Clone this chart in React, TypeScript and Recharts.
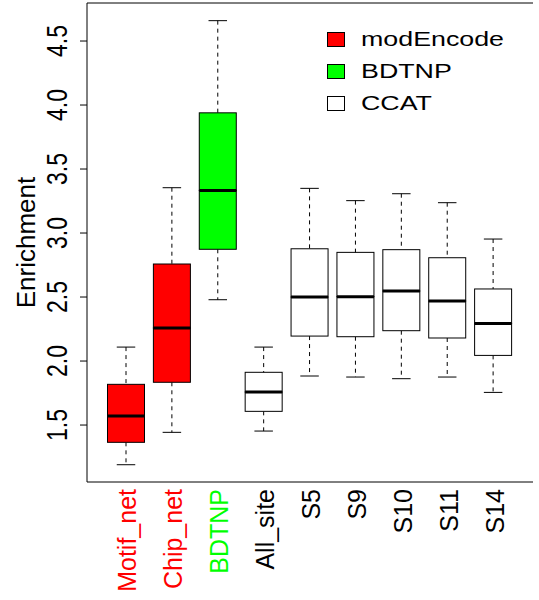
import { ComposedChart, Bar, Line, XAxis, YAxis, Legend, Label, ReferenceLine } from 'recharts';

const categories = ['Motif_net', 'Chip_net', 'BDTNP', 'All_site', 'S5', 'S9', 'S10', 'S11', 'S14'];
const lowerWhisker = [1.19, 1.443, 2.479, 1.453, 1.883, 1.875, 1.862, 1.875, 1.755];
const q1 = [1.365, 1.834, 2.873, 1.607, 2.195, 2.19, 2.237, 2.18, 2.044];
const median = [1.57, 2.258, 3.333, 1.758, 2.5, 2.503, 2.547, 2.469, 2.294];
const q3 = [1.818, 2.758, 3.939, 1.912, 2.877, 2.849, 2.87, 2.807, 2.563];
const upperWhisker = [2.109, 3.354, 4.659, 2.109, 3.349, 3.253, 3.307, 3.237, 2.953];

const boxFill = ['#FF0000', '#FF0000', '#00FF00', '#FFFFFF', '#FFFFFF', '#FFFFFF', '#FFFFFF', '#FFFFFF', '#FFFFFF'];
const labelColor = ['#FF0000', '#FF0000', '#00FF00', '#000000', '#000000', '#000000', '#000000', '#000000', '#000000'];

const legendNames = ['modEncode', 'BDTNP', 'CCAT'];
const legendFills = ['#FF0000', '#00FF00', '#FFFFFF'];

const yTicks = [1.5, 2.0, 2.5, 3.0, 3.5, 4.0, 4.5];
const yDomain = [1.055, 4.797];

const FONT = '"Liberation Sans", Arial, Helvetica, sans-serif';

const data = categories.map((name, i) => ({
  name,
  base: lowerWhisker[i],
  whiskLo: q1[i] - lowerWhisker[i],
  boxLo: median[i] - q1[i],
  boxHi: q3[i] - median[i],
  whiskHi: upperWhisker[i] - q3[i],
  fill: boxFill[i],
  color: labelColor[i],
}));

// stacked segments -> boxplot pieces
const Empty = () => <g />;

const LowerWhisker = (p: any) => {
  const cx = p.x + p.width / 2;
  const bottom = p.y + p.height;
  const cap = p.width / 4;
  return (
    <g>
      <line x1={cx} x2={cx} y1={p.y} y2={bottom} stroke="#000" strokeDasharray="4 4" />
      <line x1={cx - cap} x2={cx + cap} y1={bottom} y2={bottom} stroke="#000" />
    </g>
  );
};

const UpperWhisker = (p: any) => {
  const cx = p.x + p.width / 2;
  const cap = p.width / 4;
  return (
    <g>
      <line x1={cx} x2={cx} y1={p.y} y2={p.y + p.height} stroke="#000" strokeDasharray="4 4" />
      <line x1={cx - cap} x2={cx + cap} y1={p.y} y2={p.y} stroke="#000" />
    </g>
  );
};

const BoxLower = (p: any) => (
  <rect x={p.x} y={p.y} width={p.width} height={p.height} fill={p.payload.fill} stroke="#000" />
);

const BoxUpper = (p: any) => (
  <g>
    <rect x={p.x} y={p.y} width={p.width} height={p.height} fill={p.payload.fill} stroke="#000" />
    <line x1={p.x} x2={p.x + p.width} y1={p.y + p.height} y2={p.y + p.height} stroke="#000" strokeWidth={3} />
  </g>
);

const YTick = ({ x, y, payload }: any) => (
  <text
    transform={`translate(${x - 13},${y}) rotate(-90) scale(1,1.27)`}
    textAnchor="middle"
    fontSize={23}
    fontFamily={FONT}
    fill="#000"
  >
    {Number(payload.value).toFixed(1)}
  </text>
);

const XTick = ({ x, y, payload, index }: any) => (
  <text
    transform={`translate(${x + 10},${y + 7}) rotate(-90)`}
    textAnchor="end"
    fontSize={25}
    fontFamily={FONT}
    fill={labelColor[index] ?? '#000'}
  >
    {payload.value}
  </text>
);

const YLabel = ({ viewBox }: any) => (
  <text
    transform={`translate(35,${viewBox.y + viewBox.height / 2}) rotate(-90)`}
    textAnchor="middle"
    fontSize={26}
    fontFamily={FONT}
    fill="#000"
  >
    Enrichment
  </text>
);

const renderLegend = () => (
  <div style={{ fontFamily: FONT }}>
    {legendNames.map((n, i) => (
      <div key={n} style={{ display: 'flex', alignItems: 'center', height: 32.2 }}>
        <span
          style={{
            display: 'inline-block',
            boxSizing: 'border-box',
            width: 18,
            height: 15,
            border: '1px solid #000',
            background: legendFills[i],
          }}
        />
        <span
          style={{
            marginLeft: 16,
            fontSize: 20,
            lineHeight: 1,
            color: '#000',
            transform: 'scaleX(1.34)',
            transformOrigin: 'left center',
            whiteSpace: 'nowrap',
          }}
        >
          {n}
        </span>
      </div>
    ))}
  </div>
);

export default function App() {
  return (
    <div style={{ position: 'absolute', left: 0, top: 0, background: '#fff' }}>
      <ComposedChart width={539} height={600} data={data} margin={{ top: 3, right: 6, bottom: 0, left: 0 }}>
        <XAxis
          dataKey="name"
          interval={0}
          height={118}
          padding={{ left: 16.5, right: 16.5 }}
          tickLine={false}
          tickSize={0}
          tickMargin={0}
          axisLine={{ stroke: '#000' }}
          tick={<XTick />}
        />
        <XAxis
          xAxisId="top"
          orientation="top"
          dataKey="name"
          height={0}
          padding={{ left: 16.5, right: 16.5 }}
          tick={false}
          tickLine={false}
          axisLine={{ stroke: '#000' }}
        />
        <YAxis
          type="number"
          domain={yDomain}
          ticks={yTicks}
          interval={0}
          allowDataOverflow
          width={87}
          tickSize={7}
          tickMargin={0}
          axisLine={{ stroke: '#000' }}
          tickLine={{ stroke: '#000' }}
          tick={<YTick />}
        >
          <Label content={YLabel} />
        </YAxis>
        <YAxis
          yAxisId="right"
          orientation="right"
          type="number"
          domain={yDomain}
          allowDataOverflow
          width={0}
          tick={false}
          tickLine={false}
          axisLine={{ stroke: '#000' }}
        />
        <Legend
          layout="horizontal"
          verticalAlign="middle"
          align="center"
          content={renderLegend}
          wrapperStyle={{ left: 327, top: 23, width: 210 }}
        />
        <ReferenceLine y={yDomain[1]} stroke="#000" />
        <Bar dataKey="base" stackId="box" barSize={37} shape={<Empty />} isAnimationActive={false} legendType="none" />
        <Bar dataKey="whiskLo" stackId="box" barSize={37} shape={<LowerWhisker />} isAnimationActive={false} />
        <Bar dataKey="boxLo" stackId="box" barSize={37} shape={<BoxLower />} isAnimationActive={false} />
        <Bar dataKey="boxHi" stackId="box" barSize={37} shape={<BoxUpper />} isAnimationActive={false} />
        <Bar dataKey="whiskHi" stackId="box" barSize={37} shape={<UpperWhisker />} isAnimationActive={false} />
        {/* invisible series so the top/right frame axes get drawn */}
        <Line
          dataKey="base"
          xAxisId="top"
          yAxisId="right"
          stroke="none"
          dot={false}
          activeDot={false}
          legendType="none"
          isAnimationActive={false}
        />
      </ComposedChart>
    </div>
  );
}
